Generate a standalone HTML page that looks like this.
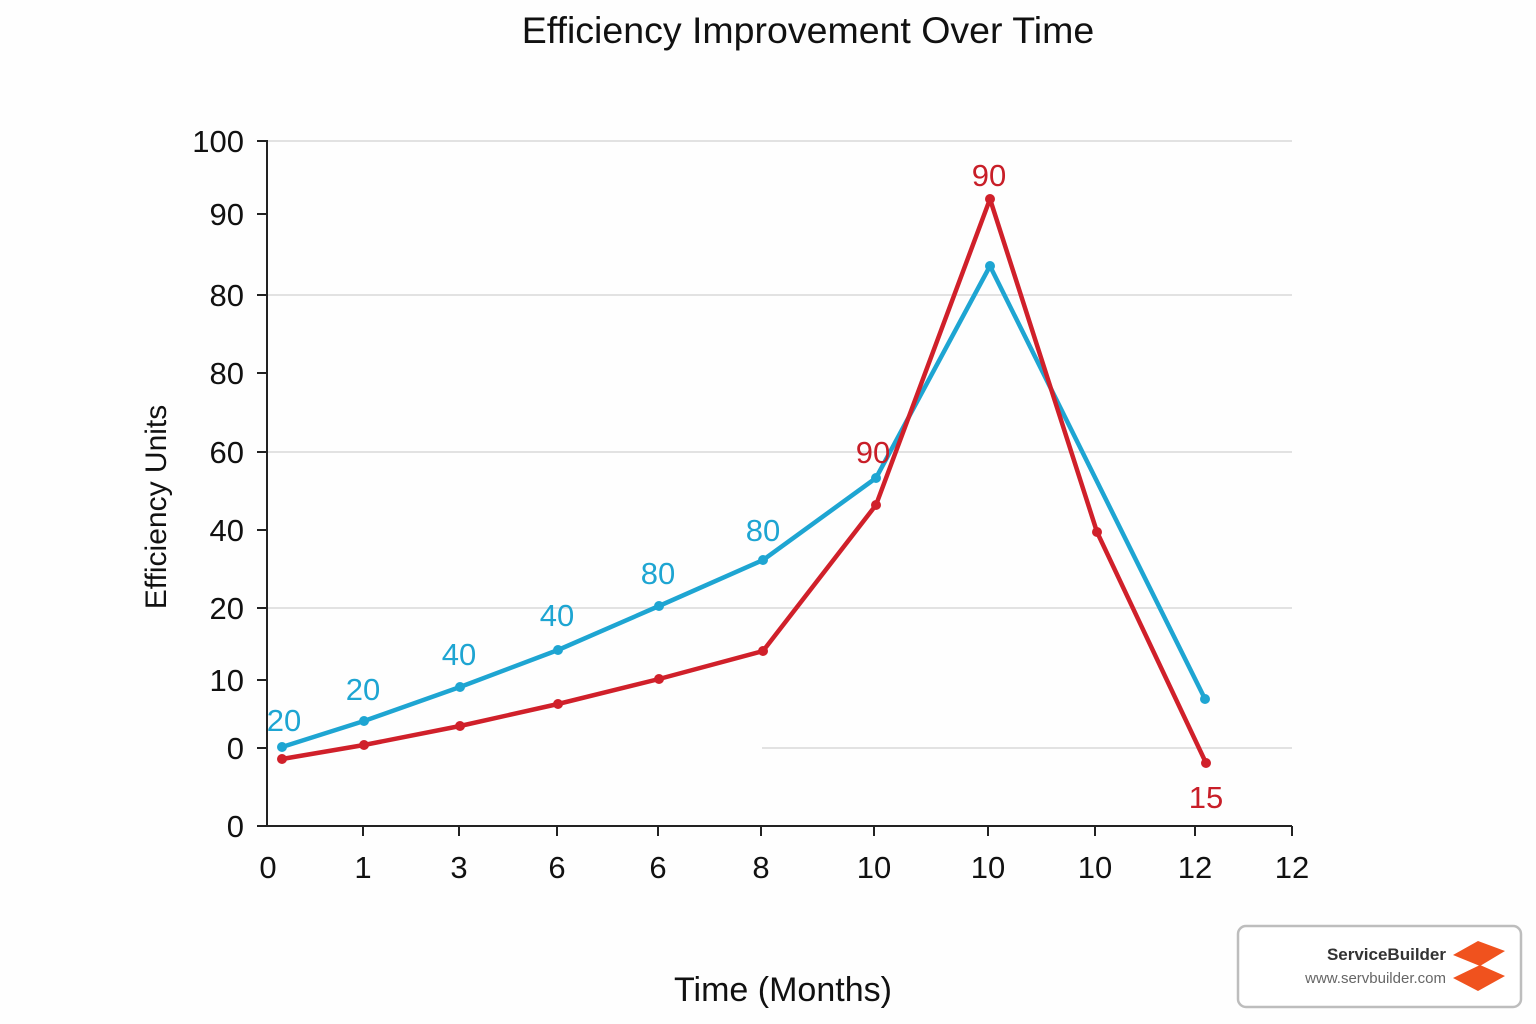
<!DOCTYPE html>
<html><head><meta charset="utf-8"><style>
html,body{margin:0;padding:0;background:#fff;}
svg{display:block;}
text{font-family:"Liberation Sans",sans-serif;}
</style></head><body>
<svg width="1536" height="1024" viewBox="0 0 1536 1024" xmlns="http://www.w3.org/2000/svg">
<rect width="1536" height="1024" fill="#fefefe"/>
<text x="808" y="43" font-size="37.5" text-anchor="middle" fill="#111">Efficiency Improvement Over Time</text>
<g stroke="#e2e2e2" stroke-width="2">
<line x1="268" y1="141" x2="1292" y2="141"/>
<line x1="268" y1="295" x2="1292" y2="295"/>
<line x1="268" y1="452" x2="1292" y2="452"/>
<line x1="268" y1="608" x2="1292" y2="608"/>
<line x1="762" y1="748" x2="1292" y2="748"/>
</g>
<g stroke="#222" stroke-width="2" fill="none">
<line x1="267" y1="140" x2="267" y2="827"/>
<line x1="266" y1="826" x2="1292" y2="826"/>
<line x1="257" y1="141" x2="267" y2="141"/>
<line x1="257" y1="214" x2="267" y2="214"/>
<line x1="257" y1="295" x2="267" y2="295"/>
<line x1="257" y1="373" x2="267" y2="373"/>
<line x1="257" y1="452" x2="267" y2="452"/>
<line x1="257" y1="530" x2="267" y2="530"/>
<line x1="257" y1="608" x2="267" y2="608"/>
<line x1="257" y1="680" x2="267" y2="680"/>
<line x1="257" y1="748" x2="267" y2="748"/>
<line x1="257" y1="826" x2="267" y2="826"/>
<line x1="363" y1="826" x2="363" y2="836"/>
<line x1="459" y1="826" x2="459" y2="836"/>
<line x1="557" y1="826" x2="557" y2="836"/>
<line x1="658" y1="826" x2="658" y2="836"/>
<line x1="761" y1="826" x2="761" y2="836"/>
<line x1="874" y1="826" x2="874" y2="836"/>
<line x1="988" y1="826" x2="988" y2="836"/>
<line x1="1095" y1="826" x2="1095" y2="836"/>
<line x1="1195" y1="826" x2="1195" y2="836"/>
<line x1="1292" y1="826" x2="1292" y2="836"/>
</g>
<g font-size="31" fill="#111" text-anchor="end">
<text x="244" y="152">100</text><text x="244" y="225">90</text><text x="244" y="306">80</text>
<text x="244" y="384">80</text><text x="244" y="463">60</text><text x="244" y="541">40</text>
<text x="244" y="619">20</text><text x="244" y="691">10</text><text x="244" y="759">0</text>
<text x="244" y="837">0</text>
</g>
<g font-size="31" fill="#111" text-anchor="middle">
<text x="268" y="878">0</text><text x="363" y="878">1</text><text x="459" y="878">3</text>
<text x="557" y="878">6</text><text x="658" y="878">6</text><text x="761" y="878">8</text>
<text x="874" y="878">10</text><text x="988" y="878">10</text><text x="1095" y="878">10</text>
<text x="1195" y="878">12</text><text x="1292" y="878">12</text>
</g>
<text x="783" y="1001" font-size="34" text-anchor="middle" fill="#111">Time (Months)</text>
<text transform="translate(166,507) rotate(-90)" font-size="30" text-anchor="middle" fill="#111">Efficiency Units</text>
<polyline fill="none" stroke="#1ea5d2" stroke-width="4.5" stroke-linejoin="round" points="282,747 364,721 460,687 558,650 659,606 763,560 876,478 990,266 1205,699"/>
<polyline fill="none" stroke="#d0202a" stroke-width="4.5" stroke-linejoin="round" points="282,759 364,745 460,726 558,704 659,679 763,651 876,505 990,199 1097,532 1206,763"/>
<g fill="#1ea5d2">
<circle cx="282" cy="747" r="5"/><circle cx="364" cy="721" r="5"/><circle cx="460" cy="687" r="5"/>
<circle cx="558" cy="650" r="5"/><circle cx="659" cy="606" r="5"/><circle cx="763" cy="560" r="5"/>
<circle cx="876" cy="478" r="5"/><circle cx="990" cy="266" r="5"/><circle cx="1205" cy="699" r="5"/>
</g>
<g fill="#d0202a">
<circle cx="282" cy="759" r="5"/><circle cx="364" cy="745" r="5"/><circle cx="460" cy="726" r="5"/>
<circle cx="558" cy="704" r="5"/><circle cx="659" cy="679" r="5"/><circle cx="763" cy="651" r="5"/>
<circle cx="876" cy="505" r="5"/><circle cx="990" cy="199" r="5"/><circle cx="1097" cy="532" r="5"/>
<circle cx="1206" cy="763" r="5"/>
</g>
<g font-size="31" fill="#1ea5d2" text-anchor="middle">
<text x="284" y="731">20</text><text x="363" y="700">20</text><text x="459" y="665">40</text>
<text x="557" y="626">40</text><text x="658" y="584">80</text><text x="763" y="541">80</text>
</g>
<g font-size="31" fill="#c81e28" text-anchor="middle">
<text x="873" y="463">90</text><text x="989" y="186">90</text><text x="1206" y="808">15</text>
</g>
<rect x="1238" y="926" width="283" height="81" rx="8" fill="#fff" stroke="#bdbdbd" stroke-width="2.5"/>
<text x="1446" y="960" font-size="17" font-weight="bold" text-anchor="end" fill="#333">ServiceBuilder</text>
<text x="1446" y="983" font-size="15" text-anchor="end" fill="#666">www.servbuilder.com</text>
<path d="M1453,955 L1478,941 L1505,951 L1480,966 Z" fill="#f0521e"/>
<path d="M1453,978 L1480,965 L1505,976 L1478,991 Z" fill="#f0521e"/>
</svg>
</body></html>
